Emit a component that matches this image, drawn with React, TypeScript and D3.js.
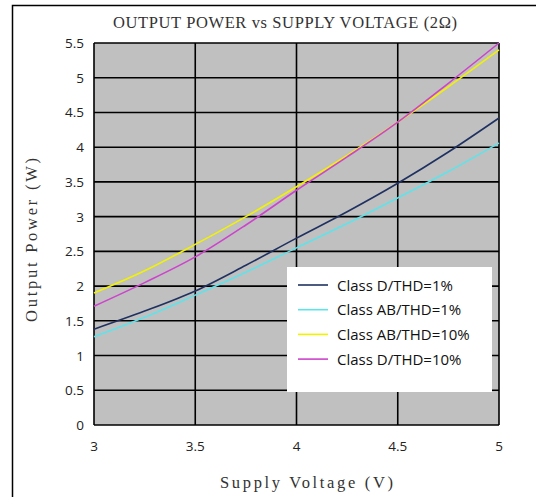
import React, { useEffect, useRef } from 'react';
import * as d3 from 'd3';

const voltages = [3, 3.25, 3.5, 3.75, 4, 4.25, 4.5, 4.75, 5];
const classD1 = [1.38, 1.64, 1.93, 2.3, 2.69, 3.07, 3.48, 3.93, 4.42];
const classAB1 = [1.27, 1.55, 1.87, 2.2, 2.55, 2.9, 3.27, 3.65, 4.06];
const classAB10 = [1.9, 2.22, 2.6, 3.0, 3.43, 3.88, 4.36, 4.87, 5.4];
const classD10 = [1.71, 2.05, 2.42, 2.88, 3.38, 3.86, 4.36, 4.92, 5.5];

const seriesNames = ['Class D/THD=1%', 'Class AB/THD=1%', 'Class AB/THD=10%', 'Class D/THD=10%'];
const seriesColors = ['#1f3160', '#5ee3ea', '#f2f200', '#cc44cc'];
const xTicks = [3, 3.5, 4, 4.5, 5];
const yTicks = [0, 0.5, 1, 1.5, 2, 2.5, 3, 3.5, 4, 4.5, 5, 5.5];

export default function App() {
  const svgRef = useRef<SVGSVGElement>(null);

  useEffect(() => {
    if (!svgRef.current) return;
    const svg = d3.select(svgRef.current);
    svg.selectAll('*').remove();

    const left = 94, right = 499, top = 43, bottom = 425;
    const x = d3.scaleLinear().domain([3, 5]).range([left, right]);
    const y = d3.scaleLinear().domain([0, 5.5]).range([bottom, top]);

    // outer frame
    svg.append('rect')
      .attr('x', 12.5).attr('y', 5.5)
      .attr('width', 540).attr('height', 500)
      .attr('fill', 'white').attr('stroke', 'black').attr('stroke-width', 1.5);

    // plot background
    svg.append('rect')
      .attr('x', left).attr('y', top)
      .attr('width', right - left).attr('height', bottom - top)
      .attr('fill', '#c0c0c0');

    // grid
    const grid = svg.append('g').attr('stroke', '#000').attr('stroke-width', 1.6);
    grid.selectAll('line.h').data(yTicks).join('line')
      .attr('x1', left).attr('x2', right)
      .attr('y1', d => y(d)).attr('y2', d => y(d));
    grid.selectAll('line.v').data(xTicks).join('line')
      .attr('class', 'v')
      .attr('y1', top).attr('y2', bottom)
      .attr('x1', d => x(d)).attr('x2', d => x(d));

    // tick labels
    const sans = '"Open Sans", sans-serif';
    svg.append('g').selectAll('text').data(yTicks).join('text')
      .attr('x', 84).attr('y', d => y(d) + 5)
      .attr('text-anchor', 'end')
      .attr('font-family', sans).attr('font-size', 13.5)
      .attr('fill', '#222')
      .text(d => String(d));
    svg.append('g').selectAll('text').data(xTicks).join('text')
      .attr('x', d => x(d)).attr('y', 451)
      .attr('text-anchor', 'middle')
      .attr('font-family', sans).attr('font-size', 13.5)
      .attr('fill', '#222')
      .text(d => String(d));

    // series
    const all = [classD1, classAB1, classAB10, classD10];
    const line = d3.line<number>()
      .x((_, i) => x(voltages[i]))
      .y(d => y(d))
      .curve(d3.curveMonotoneX);
    all.forEach((vals, i) => {
      svg.append('path')
        .datum(vals)
        .attr('fill', 'none')
        .attr('stroke', seriesColors[i])
        .attr('stroke-width', 1.6)
        .attr('d', line);
    });

    // legend
    const lg = svg.append('g');
    lg.append('rect')
      .attr('x', 287).attr('y', 267).attr('width', 205).attr('height', 125)
      .attr('fill', 'white');
    seriesNames.forEach((name, i) => {
      const ly = 285 + i * 24.7;
      lg.append('line')
        .attr('x1', 298).attr('x2', 328).attr('y1', ly).attr('y2', ly)
        .attr('stroke', seriesColors[i]).attr('stroke-width', 1.6);
      lg.append('text')
        .attr('x', 337).attr('y', ly + 5.5)
        .attr('font-family', sans).attr('font-size', 15)
        .attr('fill', '#111')
        .text(name);
    });

    // titles
    const serif = '"Liberation Serif", "DejaVu Serif", serif';
    svg.append('text')
      .attr('x', 113).attr('y', 28)
      .attr('textLength', 344).attr('lengthAdjust', 'spacing')
      .attr('font-family', serif).attr('font-size', 16.5)
      .attr('fill', '#333')
      .text('OUTPUT POWER vs SUPPLY VOLTAGE (2Ω)');
    svg.append('text')
      .attr('x', 220).attr('y', 488)
      .attr('textLength', 173).attr('lengthAdjust', 'spacing')
      .attr('font-family', serif).attr('font-size', 16.5)
      .attr('fill', '#333')
      .text('Supply Voltage (V)');
    svg.append('text')
      .attr('transform', 'translate(37,322) rotate(-90)')
      .attr('textLength', 164).attr('lengthAdjust', 'spacing')
      .attr('font-family', serif).attr('font-size', 16.5)
      .attr('fill', '#333')
      .text('Output Power (W)');
  }, []);

  return (
    <svg ref={svgRef} width={536} height={497}
      style={{ position: 'absolute', left: 0, top: 0, background: 'white' }} />
  );
}
